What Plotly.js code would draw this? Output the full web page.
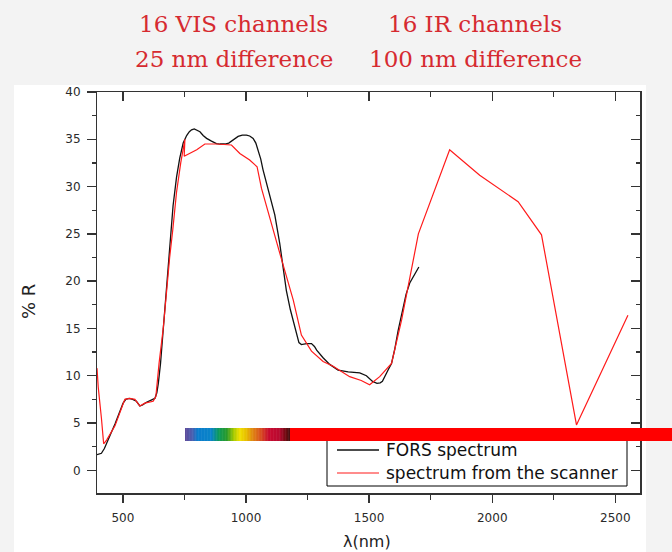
<!DOCTYPE html>
<html>
<head>
<meta charset="utf-8">
<script src="https://cdn.plot.ly/plotly-3.0.1.min.js"></script>
<style>
html,body{margin:0;padding:0;background:#f3f3f3;}
#chart{width:672px;height:552px;}
</style>
</head>
<body>
<div id="chart"></div>
<script>
// FORS spectrum (black)
const forsWavelength = [395,413,425,434,450,468,485,501,512,525,540,555,569,580,596,615,630,638,644,653,660,670,680,691,704,718,731,745,759,770,779,790,799,813,826,840,860,880,894,914,930,941,955,968,985,1002,1015,1029,1040,1049,1060,1069,1080,1090,1105,1117,1137,1150,1164,1180,1191,1205,1215,1225,1246,1266,1278,1287,1300,1313,1340,1374,1415,1440,1462,1489,1514,1532,1545,1554,1565,1577,1591,1604,1618,1635,1650,1665,1680,1690,1702];
const forsReflectance = [1.66,1.8,2.3,2.8,3.8,4.9,6.0,7.1,7.5,7.6,7.5,7.3,6.8,6.9,7.2,7.4,7.6,8.2,9.2,11.3,13.5,16.6,20.0,24.0,28.0,31.0,33.0,34.6,35.4,35.8,36.0,36.1,36.0,35.8,35.4,35.1,34.8,34.55,34.5,34.5,34.6,34.8,35.1,35.3,35.45,35.45,35.35,35.1,34.6,33.9,32.9,31.8,30.7,29.6,28.0,27.0,24.0,21.5,19.0,17.0,15.9,14.2,13.5,13.3,13.4,13.4,13.1,12.7,12.3,11.9,11.2,10.6,10.4,10.35,10.3,10.0,9.4,9.2,9.25,9.4,9.9,10.6,11.3,12.8,14.8,17.0,18.6,19.8,20.5,20.9,21.5];

// spectrum from the scanner (red)
const scannerWavelength = [395,400,413,422,434,468,508,528,549,569,589,623,634,647,664,677,690,703,718,735,752,749,800,833,880,941,975,1015,1045,1063,1100,1140,1192,1225,1266,1313,1354,1421,1468,1502,1543,1591,1632,1700,1827,1949,2105,2200,2342,2551];
const scannerReflectance = [10.8,8.8,5.5,2.8,3.2,4.7,7.5,7.6,7.5,6.8,7.1,7.3,7.8,11.3,15.0,19.0,22.5,25.5,29.4,32.5,35.0,33.2,33.9,34.5,34.5,34.4,33.5,32.8,32.1,29.8,26.5,22.7,18.0,14.3,12.6,11.5,11.0,9.9,9.5,9.05,9.9,11.3,15.9,25.0,33.9,31.2,28.4,24.9,4.8,16.4];

const seriesNames = ['FORS spectrum','spectrum from the scanner'];
const headerLines = [['16 VIS channels','25 nm difference'],['16 IR channels','100 nm difference']];
const xTitle = 'λ(nm)';
const yTitle = '% R';

// plot-area geometry (pixels)
const W = 672, H = 552, L = 97, R = 640, T = 92, B = 493;
const px = x => (x - L) / (R - L);
const py = y => (B - y) / (B - T);

const axisCol = '#333';
const tickFont = {family:'DejaVu Sans, Arial, sans-serif', size:12, color:'#2a2a2a'};

const traces = [
  {x: forsWavelength, y: forsReflectance, type:'scatter', mode:'lines', name: seriesNames[0],
   line:{color:'#111111', width:1.3}, showlegend:false, hoverinfo:'skip'},
  {x: scannerWavelength, y: scannerReflectance, type:'scatter', mode:'lines', name: seriesNames[1],
   line:{color:'#ff1a1a', width:1.2}, showlegend:false, hoverinfo:'skip'},
  {x: [], y: [], xaxis:'x2', yaxis:'y2', type:'scatter', mode:'lines', showlegend:false, hoverinfo:'skip'}
];

const shapes = [];
// white panel
shapes.push({type:'rect', xref:'paper', yref:'paper', x0:px(14), x1:px(646), y0:py(560), y1:py(85),
  fillcolor:'#ffffff', line:{width:0}, layer:'below'});
// legend box
shapes.push({type:'rect', xref:'paper', yref:'paper', x0:px(327), x1:px(627), y0:py(486), y1:py(436),
  fillcolor:'#ffffff', line:{color:'#000', width:1}, layer:'above'});
shapes.push({type:'line', xref:'paper', yref:'paper', x0:px(337), x1:px(379), y0:py(450), y1:py(450),
  line:{color:'#111', width:1.3}, layer:'above'});
shapes.push({type:'line', xref:'paper', yref:'paper', x0:px(337), x1:px(379), y0:py(473), y1:py(473),
  line:{color:'#ff1a1a', width:1.2}, layer:'above'});

// spectrum colour strip
const stops = [[0,'#5e4b9a'],[0.07,'#4a5fb0'],[0.12,'#0a7ccc'],[0.25,'#0a84c8'],[0.32,'#0c9a5c'],[0.40,'#2a9a2a'],
  [0.46,'#a0c800'],[0.52,'#f0e000'],[0.58,'#e8c000'],[0.64,'#e08a10'],[0.72,'#d85020'],[0.80,'#c80a30'],
  [0.90,'#b80a30'],[0.96,'#700a10'],[1.0,'#401010']];
function hex2rgb(h){return [parseInt(h.slice(1,3),16),parseInt(h.slice(3,5),16),parseInt(h.slice(5,7),16)];}
function colAt(t){
  for(let i=0;i<stops.length-1;i++){
    const a=stops[i], b=stops[i+1];
    if(t>=a[0] && t<=b[0]){
      const f=(t-a[0])/(b[0]-a[0]); const ca=hex2rgb(a[1]), cb=hex2rgb(b[1]);
      return 'rgb('+ca.map((v,k)=>Math.round(v+(cb[k]-v)*f)).join(',')+')';
    }
  }
  return stops[stops.length-1][1];
}
const stripL=185, stripR=290, stripT=428, stripB=441, N=70;
for(let i=0;i<N;i++){
  const a=stripL+(stripR-stripL)*i/N, b=stripL+(stripR-stripL)*(i+1)/N+0.4;
  shapes.push({type:'rect', xref:'paper', yref:'paper', x0:px(a), x1:px(b), y0:py(stripB), y1:py(stripT),
    fillcolor:colAt((i+0.5)/N), line:{width:0}, layer:'above'});
}
shapes.push({type:'rect', xref:'paper', yref:'paper', x0:px(stripR), x1:px(W+2), y0:py(stripB), y1:py(stripT),
  fillcolor:'#ff0000', line:{width:0}, layer:'above'});

const titleFont = {family:'DejaVu Serif, serif', size:23, color:'#d62a30'};
const annotations = [
  {text:headerLines[0][0], x:px(233.5), y:py(24)},
  {text:headerLines[0][1], x:px(233.5), y:py(59)},
  {text:headerLines[1][0], x:px(475), y:py(24)},
  {text:headerLines[1][1], x:px(475), y:py(59)}
].map(a=>Object.assign(a,{xref:'paper', yref:'paper', showarrow:false, xanchor:'center', yanchor:'middle', font:titleFont}));
annotations.push({text:yTitle, xref:'paper', yref:'paper', x:px(28), y:py(302), textangle:-90, showarrow:false,
  xanchor:'center', yanchor:'middle', font:{family:'DejaVu Sans, Arial, sans-serif', size:18, color:'#222'}});
annotations.push({text:xTitle, xref:'paper', yref:'paper', x:px(367), y:py(541), showarrow:false,
  xanchor:'center', yanchor:'middle', font:{family:'DejaVu Sans, Arial, sans-serif', size:16, color:'#222'}});
annotations.push({text:seriesNames[0], xref:'paper', yref:'paper', x:px(384), y:py(450), showarrow:false,
  xanchor:'left', yanchor:'middle', font:{family:'DejaVu Sans, Arial, sans-serif', size:17, color:'#111'}});
annotations.push({text:seriesNames[1], xref:'paper', yref:'paper', x:px(384), y:py(473), showarrow:false,
  xanchor:'left', yanchor:'middle', font:{family:'DejaVu Sans, Arial, sans-serif', size:17, color:'#111'}});

const baseAxis = {showgrid:false, zeroline:false, showline:true, linecolor:axisCol, linewidth:1.5,
  tickcolor:axisCol, tickwidth:1.3, tickfont:tickFont, fixedrange:true};
const xRange = [395, 2600], yRange = [-2.4, 40];

const layout = {
  width:W, height:H,
  margin:{l:L, r:W-R, t:T, b:H-B, pad:0},
  paper_bgcolor:'#f3f3f3', plot_bgcolor:'#ffffff',
  showlegend:false,
  xaxis:Object.assign({}, baseAxis, {range:xRange, tick0:500, dtick:500, ticks:'outside', ticklen:8,
    ticklabelstandoff:5, minor:{tick0:250, dtick:250, ticks:'outside', ticklen:5, tickwidth:1.3, tickcolor:axisCol}}),
  yaxis:Object.assign({}, baseAxis, {range:yRange, tick0:0, dtick:5, ticks:'outside', ticklen:8.5,
    ticklabelstandoff:4, minor:{tick0:0, dtick:2.5, ticks:'outside', ticklen:3.5, tickwidth:1.3, tickcolor:axisCol}}),
  xaxis2:Object.assign({}, baseAxis, {range:xRange, overlaying:'x', side:'top', anchor:'y', tick0:500, dtick:500,
    ticks:'inside', ticklen:8.5, showticklabels:false,
    minor:{tick0:250, dtick:250, ticks:'inside', ticklen:4.5, tickwidth:1.3, tickcolor:axisCol}}),
  yaxis2:Object.assign({}, baseAxis, {range:yRange, overlaying:'y', side:'right', anchor:'x', tick0:0, dtick:5,
    ticks:'inside', ticklen:9, showticklabels:false,
    minor:{tick0:0, dtick:2.5, ticks:'inside', ticklen:4.5, tickwidth:1.3, tickcolor:axisCol}}),
  shapes:shapes,
  annotations:annotations
};

Plotly.newPlot('chart', traces, layout, {displayModeBar:false, staticPlot:true});
</script>
</body>
</html>
